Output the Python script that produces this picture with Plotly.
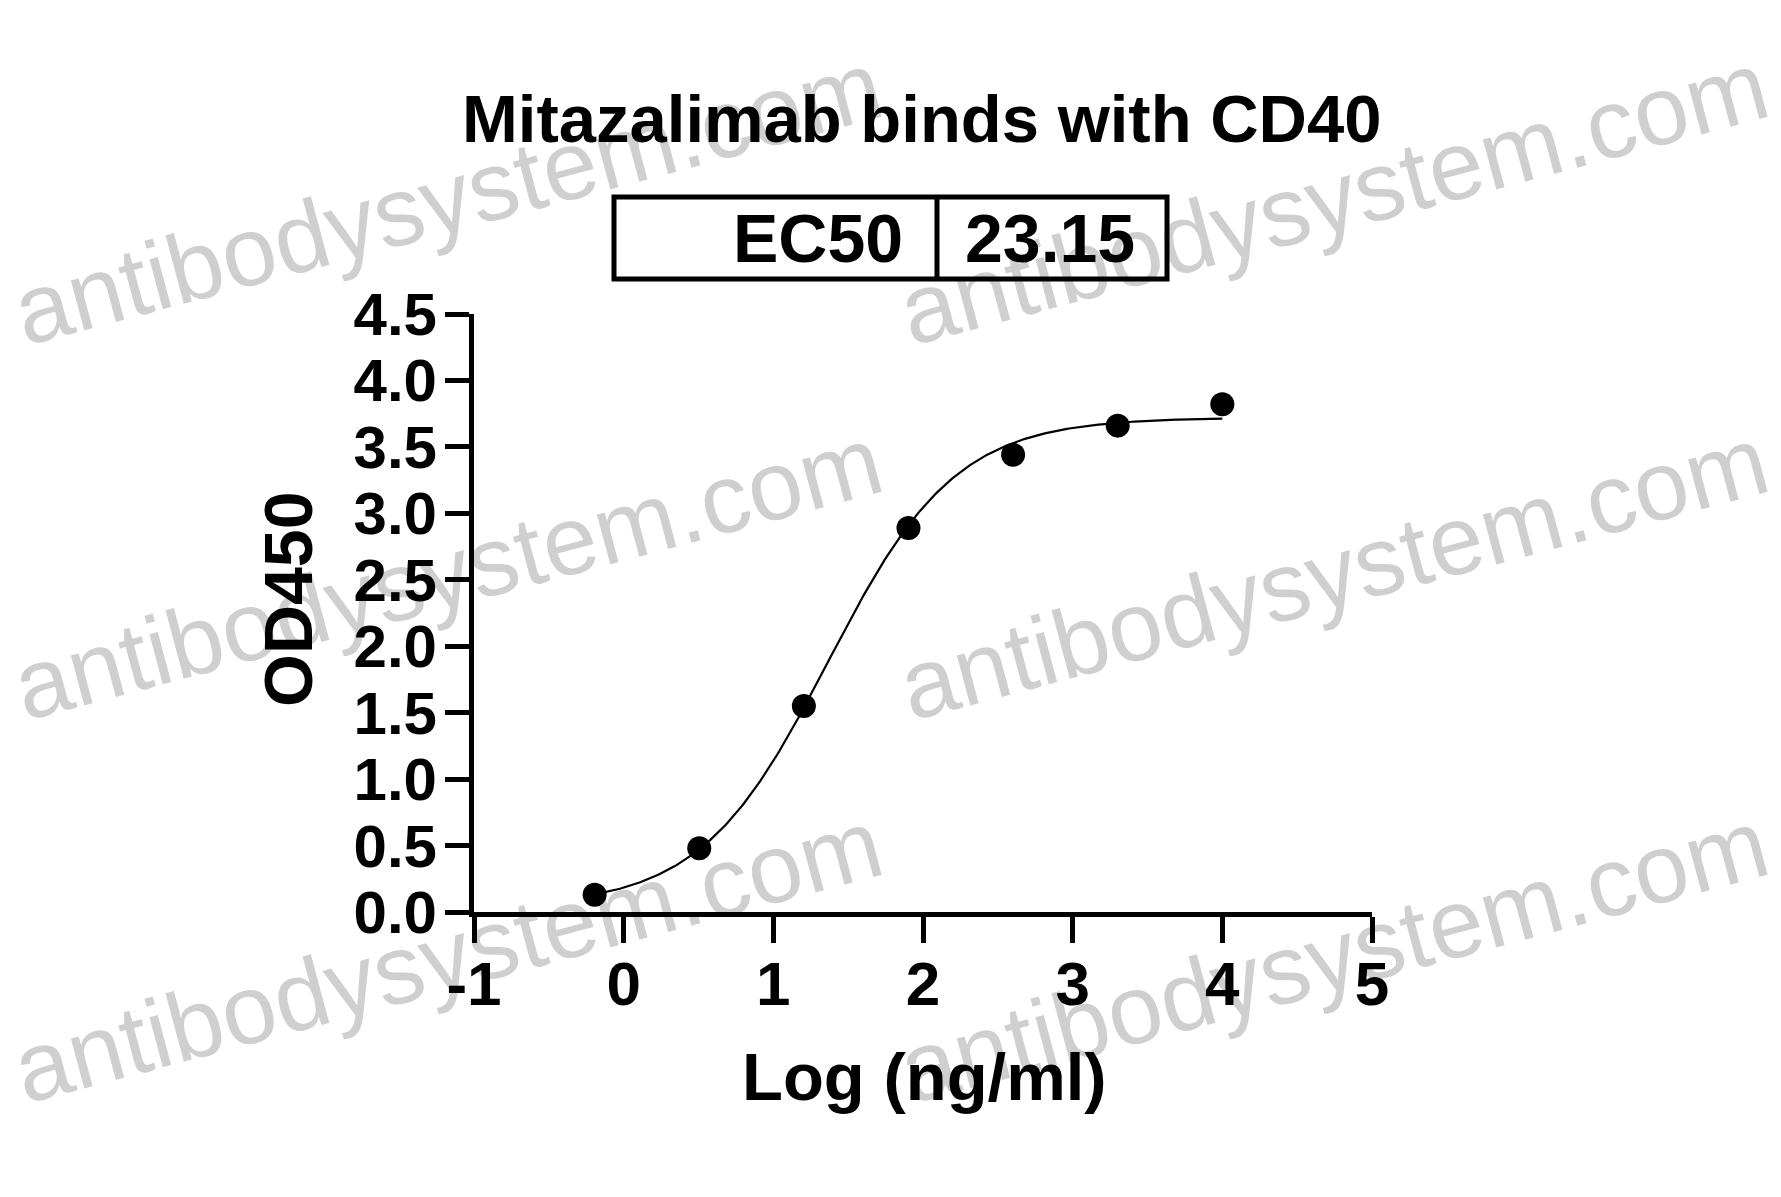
import numpy as np
import plotly.graph_objects as go

# ---- data ----
log_conc = [-0.194, 0.505, 1.204, 1.903, 2.602, 3.301, 4.0]
od450 = [0.13, 0.48, 1.55, 2.89, 3.44, 3.66, 3.82]

# 4PL fit parameters (EC50 as printed on the chart)
ec50 = 23.15
fit_bottom = 0.04
fit_top = 3.72
fit_hill = 1.02

x_ticks = [-1, 0, 1, 2, 3, 4, 5]
y_ticks = [0.0, 0.5, 1.0, 1.5, 2.0, 2.5, 3.0, 3.5, 4.0, 4.5]
y_ticktext = ["0.0", "0.5", "1.0", "1.5", "2.0", "2.5", "3.0", "3.5", "4.0", "4.5"]

title_text = "Mitazalimab binds with CD40"
x_title = "Log (ng/ml)"
y_title = "OD450"
ec50_label = "EC50"
ec50_value = "23.15"
watermark = "antibodysystem.com"

# ---- layout geometry (pixels) ----
W, H = 1781, 1197
L, R, T, B = 474, 1372, 314, 912


def px(x):
    return (x - L) / (R - L)


def py(y):
    return (B - y) / (B - T)


FONT = "Liberation Sans, Arial, sans-serif"

# fitted curve
xc = np.linspace(min(log_conc), max(log_conc), 300)
yc = fit_bottom + (fit_top - fit_bottom) / (1 + 10 ** (fit_hill * (np.log10(ec50) - xc)))

fig = go.Figure()
fig.add_trace(go.Scatter(x=xc, y=yc, mode="lines",
                         line=dict(color="black", width=2.2),
                         hoverinfo="skip", showlegend=False))
fig.add_trace(go.Scatter(x=log_conc, y=od450, mode="markers",
                         marker=dict(color="black", size=24),
                         showlegend=False))

fig.update_layout(
    width=W, height=H,
    margin=dict(l=L, r=W - R, t=T, b=H - B, pad=0),
    paper_bgcolor="white", plot_bgcolor="white",
    showlegend=False,
    font=dict(family=FONT, color="black"),
)
fig.update_xaxes(
    range=[-1, 5], tickvals=x_ticks, ticktext=[str(v) for v in x_ticks],
    showline=True, linecolor="black", linewidth=5,
    ticks="outside", ticklen=26, tickwidth=5, tickcolor="black",
    tickfont=dict(family=FONT, size=62, weight="bold", color="black"),
    showgrid=False, zeroline=False, ticklabelstandoff=-12,
)
fig.update_yaxes(
    range=[0, 4.5], tickvals=y_ticks, ticktext=y_ticktext,
    showline=True, linecolor="black", linewidth=5,
    ticks="outside", ticklen=24, tickwidth=5, tickcolor="black",
    tickfont=dict(family=FONT, size=60, weight="bold", color="black"),
    showgrid=False, zeroline=False, ticklabelstandoff=-4,
)

ann = []
# title
ann.append(dict(text=title_text, x=px(922), y=py(118), xref="paper", yref="paper",
                xanchor="center", yanchor="middle", showarrow=False,
                font=dict(family=FONT, size=67, weight="bold", color="black")))
# axis titles
ann.append(dict(text=x_title, x=px(924), y=py(1076), xref="paper", yref="paper",
                xanchor="center", yanchor="middle", showarrow=False,
                font=dict(family=FONT, size=67, weight="bold", color="black")))
ann.append(dict(text=y_title, x=px(288), y=py(600), xref="paper", yref="paper",
                xanchor="center", yanchor="middle", showarrow=False, textangle=-90,
                font=dict(family=FONT, size=68, weight="bold", color="black")))
# EC50 box text
ann.append(dict(text=ec50_label, x=px(905), y=py(238), xref="paper", yref="paper",
                xanchor="right", yanchor="middle", showarrow=False,
                font=dict(family=FONT, size=68, weight="bold", color="black")))
ann.append(dict(text=ec50_value, x=px(1050), y=py(238), xref="paper", yref="paper",
                xanchor="center", yanchor="middle", showarrow=False,
                font=dict(family=FONT, size=68, weight="bold", color="black")))

# watermarks
for cx in (447, 1333):
    for cy in (198, 573, 956):
        ann.append(dict(text=watermark, x=px(cx), y=py(cy), xref="paper", yref="paper",
                        xanchor="center", yanchor="middle", showarrow=False,
                        textangle=-15,
                        font=dict(family=FONT, size=98, color="rgba(0,0,0,0.19)")))

fig.update_layout(annotations=ann)

fig.update_layout(shapes=[
    dict(type="rect", xref="paper", yref="paper",
         x0=px(614), x1=px(1167), y0=py(197), y1=py(279),
         line=dict(color="black", width=5), fillcolor="rgba(0,0,0,0)"),
    dict(type="line", xref="paper", yref="paper",
         x0=px(937), x1=px(937), y0=py(197), y1=py(279),
         line=dict(color="black", width=5)),
])

fig.write_html("out.html", config={"displayModeBar": False},
               post_script="document.body.style.margin='0px';")
